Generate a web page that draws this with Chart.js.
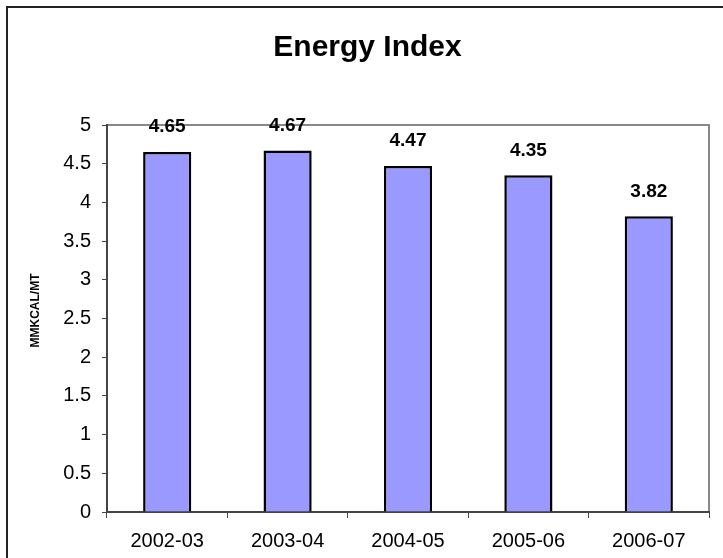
<!DOCTYPE html>
<html>
<head>
<meta charset="utf-8">
<script src="https://cdn.jsdelivr.net/npm/chart.js@4/dist/chart.umd.min.js"></script>
<style>
  html, body { margin: 0; padding: 0; background: #fff; }
  #wrap { width: 723px; height: 558px; }
</style>
</head>
<body>
<div id="wrap"><canvas id="chart1" width="723" height="558"></canvas></div>
<script>
// chart data
const years = ["2002-03", "2003-04", "2004-05", "2005-06", "2006-07"];
const energyIndex = [4.65, 4.67, 4.47, 4.35, 3.82];
const yTicks = [0, 0.5, 1, 1.5, 2, 2.5, 3, 3.5, 4, 4.5, 5];
const yTitle = "MMKCAL/MT";

const FONT = "'Liberation Sans', Arial, sans-serif";

// outer frame, gray box round the plot area, and the y axis title
const framePlugin = {
  id: "frame",
  beforeDraw(chart) {
    const ctx = chart.ctx;
    const a = chart.chartArea;
    ctx.save();
    ctx.strokeStyle = "#222";
    ctx.lineWidth = 2;
    ctx.strokeRect(7, 7, 900, 900);
    ctx.strokeStyle = "#888";
    ctx.lineWidth = 2;
    ctx.beginPath();
    ctx.moveTo(a.left, a.top);
    ctx.lineTo(a.right, a.top);
    ctx.lineTo(a.right, a.bottom);
    ctx.stroke();

    ctx.translate(36, (a.top + a.bottom) / 2 - 8);
    ctx.rotate(-Math.PI / 2);
    ctx.font = "bold 12px " + FONT;
    ctx.fillStyle = "#000";
    ctx.textAlign = "center";
    ctx.textBaseline = "middle";
    ctx.fillText(yTitle, 0, 0);
    ctx.restore();
  }
};

// value labels above the bars
const valueLabels = {
  id: "valueLabels",
  afterDatasetsDraw(chart) {
    const ctx = chart.ctx;
    const meta = chart.getDatasetMeta(0);
    ctx.save();
    ctx.font = "bold 19px " + FONT;
    ctx.fillStyle = "#000";
    ctx.textAlign = "center";
    ctx.textBaseline = "middle";
    meta.data.forEach((bar, i) => {
      ctx.fillText(energyIndex[i].toFixed(2), bar.x, bar.y - 25);
    });
    ctx.restore();
  }
};

window.onload = () => {
  const canvas = document.getElementById("chart1");
  new Chart(canvas, {
    type: "bar",
    data: {
      labels: years,
      datasets: [{
        data: energyIndex,
        backgroundColor: "#9999FF",
        borderColor: "#000",
        borderWidth: 2.5,
        categoryPercentage: 1,
        barPercentage: 0.4
      }]
    },
    options: {
      responsive: false,
      animation: false,
      layout: { padding: { top: 0, left: 26, right: 14, bottom: 0 } },
      plugins: {
        legend: { display: false },
        tooltip: { enabled: false },
        title: {
          display: true,
          text: "Energy Index",
          color: "#000",
          font: { family: FONT, size: 30, weight: "bold" },
          padding: { top: 30, bottom: 59 }
        }
      },
      scales: {
        x: {
          grid: {
            offset: true,
            drawOnChartArea: false,
            drawTicks: true,
            tickLength: 6,
            color: "#444"
          },
          border: { color: "#444", width: 2 },
          ticks: {
            color: "#000",
            font: { family: FONT, size: 20 },
            padding: 11,
            maxRotation: 0
          },
          afterFit: (s) => { s.height = 46; }
        },
        y: {
          min: 0,
          max: 5,
          afterBuildTicks: (s) => { s.ticks = yTicks.map(v => ({ value: v })); },
          grid: {
            drawOnChartArea: false,
            drawTicks: true,
            tickLength: 5,
            color: "#444"
          },
          border: { color: "#444", width: 2 },
          ticks: {
            color: "#000",
            font: { family: FONT, size: 20 },
            padding: 11,
            callback: (v) => String(v)
          },
          afterFit: (s) => { s.width = 81; }
        }
      }
    },
    plugins: [framePlugin, valueLabels]
  });
};
</script>
</body>
</html>
